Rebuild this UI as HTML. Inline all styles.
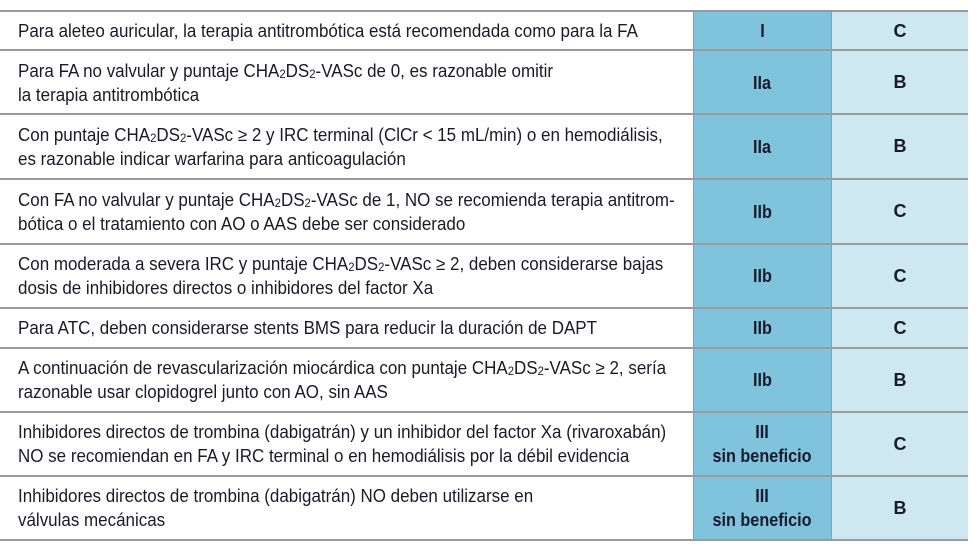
<!DOCTYPE html>
<html><head><meta charset="utf-8"><style>
body{margin:0;background:#fff;width:979px;height:549px;overflow:hidden;font-family:"Liberation Sans",sans-serif;color:#1a1a2a}
.r{position:absolute;left:0;width:968px;border-top:2px solid #9a9a9a}
.c{position:absolute;top:0;bottom:0;display:flex;align-items:center}
.t{left:18px;width:670px;font-size:18px;line-height:24px}
.t>div{transform:scaleX(0.943);transform-origin:left center;white-space:nowrap}
.a{left:693px;width:139px;background:#7fc4dc;justify-content:center;text-align:center;font-weight:bold;font-size:18px;line-height:24px;border-left:1px solid #9a9a9a;border-right:1px solid #9a9a9a;box-sizing:border-box}
.a>div{transform:scaleX(0.9)}
.b{left:832px;width:136px;background:#cde8f1;justify-content:center;font-weight:bold;font-size:18px}
sub{font-size:12px;vertical-align:baseline;position:relative;top:1px;line-height:0}
</style></head><body>
<div>
<div class="r" style="top:10px;height:38px"><div class="c t"><div>Para aleteo auricular, la terapia antitrombótica está recomendada como para la FA</div></div><div class="c a"><div>I</div></div><div class="c b">C</div></div>
<div class="r" style="top:49px;height:63px"><div class="c t"><div>Para FA no valvular y puntaje CHA<sub>2</sub>DS<sub>2</sub>-VASc de 0, es razonable omitir<br>la terapia antitrombótica</div></div><div class="c a"><div>IIa</div></div><div class="c b">B</div></div>
<div class="r" style="top:113px;height:63px"><div class="c t"><div>Con puntaje CHA<sub>2</sub>DS<sub>2</sub>-VASc ≥ 2 y IRC terminal (ClCr &lt; 15 mL/min) o en hemodiálisis,<br>es razonable indicar warfarina para anticoagulación</div></div><div class="c a"><div>IIa</div></div><div class="c b">B</div></div>
<div class="r" style="top:178px;height:63px"><div class="c t"><div>Con FA no valvular y puntaje CHA<sub>2</sub>DS<sub>2</sub>-VASc de 1, NO se recomienda terapia antitrom-<br>bótica o el tratamiento con AO o AAS debe ser considerado</div></div><div class="c a"><div>IIb</div></div><div class="c b">C</div></div>
<div class="r" style="top:243px;height:62px"><div class="c t"><div>Con moderada a severa IRC y puntaje CHA<sub>2</sub>DS<sub>2</sub>-VASc ≥ 2, deben considerarse bajas<br>dosis de inhibidores directos o inhibidores del factor Xa</div></div><div class="c a"><div>IIb</div></div><div class="c b">C</div></div>
<div class="r" style="top:307px;height:38px"><div class="c t"><div>Para ATC, deben considerarse stents BMS para reducir la duración de DAPT</div></div><div class="c a"><div>IIb</div></div><div class="c b">C</div></div>
<div class="r" style="top:347px;height:62px"><div class="c t"><div>A continuación de revascularización miocárdica con puntaje CHA<sub>2</sub>DS<sub>2</sub>-VASc ≥ 2, sería<br>razonable usar clopidogrel junto con AO, sin AAS</div></div><div class="c a"><div>IIb</div></div><div class="c b">B</div></div>
<div class="r" style="top:411px;height:62px"><div class="c t"><div>Inhibidores directos de trombina (dabigatrán) y un inhibidor del factor Xa (rivaroxabán)<br>NO se recomiendan en FA y IRC terminal o en hemodiálisis por la débil evidencia</div></div><div class="c a"><div>III<br>sin beneficio</div></div><div class="c b">C</div></div>
<div class="r" style="top:475px;height:62px;border-bottom:2px solid #9a9a9a"><div class="c t"><div>Inhibidores directos de trombina (dabigatrán) NO deben utilizarse en<br>válvulas mecánicas</div></div><div class="c a"><div>III<br>sin beneficio</div></div><div class="c b">B</div></div>
</div>
</body></html>
